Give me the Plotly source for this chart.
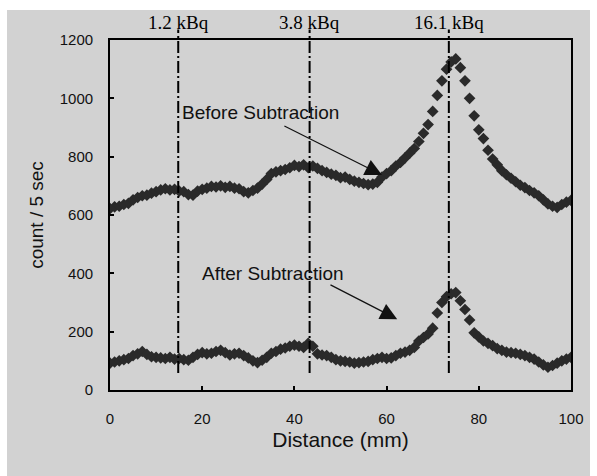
import plotly.graph_objects as go

distance_mm = list(range(0, 101))

before_subtraction = [
    622, 628, 630, 636, 640, 652, 660, 666, 668, 675,
    680, 686, 690, 686, 688, 682, 680, 670, 668, 682,
    688, 692, 698, 696, 700, 695, 698, 692, 690, 680,
    676, 684, 692, 706, 722, 742, 748, 752, 756, 762,
    770, 766, 772, 762, 768, 760, 752, 746, 740, 736,
    728, 730, 722, 716, 712, 708, 704, 706, 712, 730,
    742, 752, 768, 780, 796, 812, 828, 852, 880, 910,
    955, 1010, 1060, 1100, 1125, 1135, 1105, 1060, 1000, 940,
    892, 862, 822, 792, 772, 752, 738, 726, 714, 702,
    694, 684, 676, 666, 652, 638, 630, 626, 636, 644,
    650,
]

after_subtraction = [
    92, 96, 100, 104, 108, 118, 124, 132, 122, 114,
    112, 110, 108, 112, 106, 108, 104, 102, 112, 122,
    128, 124, 126, 132, 136, 128, 120, 124, 126, 118,
    110, 100, 94, 102, 112, 126, 132, 140, 144, 150,
    154, 150, 146, 160, 150, 124, 120, 118, 112, 104,
    100, 98, 96, 92, 94, 96, 98, 104, 108, 112,
    108, 110, 118, 126, 130, 136, 146, 168, 180, 192,
    212, 264, 300, 320, 330, 334, 306, 276, 240, 196,
    182, 168, 160, 152, 142, 136, 130, 128, 126, 122,
    118, 112, 106, 96, 86, 78, 84, 92, 100, 106,
    112,
]

source_positions = [14.8, 43.3, 73.5]
source_labels = ["1.2 kBq", "3.8 kBq", "16.1 kBq"]

x_ticks = [0, 20, 40, 60, 80, 100]
y_ticks = [0, 200, 400, 600, 800, 1000, 1200]
x_range = [0, 100]
y_range = [0, 1200]

BG = "#d2d2d2"
MARK = "#2a2a2a"

fig = go.Figure()
fig.add_trace(go.Scatter(
    x=distance_mm, y=before_subtraction, mode="markers",
    marker=dict(symbol="diamond", size=9, color=MARK),
    name="Before Subtraction", showlegend=False,
))
fig.add_trace(go.Scatter(
    x=distance_mm, y=after_subtraction, mode="markers",
    marker=dict(symbol="diamond", size=9, color=MARK),
    name="After Subtraction", showlegend=False,
))

# gray scanned-page background
fig.add_shape(type="rect", xref="paper", yref="paper",
              x0=-0.2234, x1=1.0412, y0=-0.2457, y1=1.0857,
              fillcolor=BG, line=dict(width=0), layer="below")

line_bottom = 58 / y_range[1]
for xp, lab in zip(source_positions, source_labels):
    fig.add_shape(type="line", xref="x", yref="paper",
                  x0=xp, x1=xp, y0=line_bottom, y1=1.03,
                  line=dict(color="black", width=2, dash="12px,3px,2px,3px"))
    fig.add_annotation(x=xp, y=1.051, xref="x", yref="paper",
                       text=lab, showarrow=False, xanchor="center", yanchor="middle",
                       font=dict(family="Liberation Serif", size=19, color="black"))

# text labels
fig.add_annotation(x=15.2, y=953, xref="x", yref="y", text="Before Subtraction",
                   showarrow=False, xanchor="left", yanchor="middle",
                   font=dict(family="Liberation Sans", size=19, color="#111"))
fig.add_annotation(x=19.5, y=401, xref="x", yref="y", text="After Subtraction",
                   showarrow=False, xanchor="left", yanchor="middle",
                   font=dict(family="Liberation Sans", size=19, color="#111"))

# arrows
fig.add_annotation(x=59.0, y=737, ax=37.5, ay=908, xref="x", yref="y",
                   axref="x", ayref="y", text="", showarrow=True,
                   arrowhead=2, arrowsize=2.8, arrowwidth=1.2, arrowcolor="#111")
fig.add_annotation(x=62.3, y=243, ax=47.5, ay=363, xref="x", yref="y",
                   axref="x", ayref="y", text="", showarrow=True,
                   arrowhead=2, arrowsize=2.8, arrowwidth=1.2, arrowcolor="#111")

fig.update_layout(
    width=597, height=476,
    margin=dict(l=110, r=26, t=40, b=86),
    paper_bgcolor="white", plot_bgcolor=BG,
    font=dict(family="Liberation Sans", color="#111"),
    showlegend=False,
)
fig.update_xaxes(
    range=x_range, tickvals=x_ticks, ticks="inside", ticklen=4, tickwidth=1.5,
    tickcolor="black", showline=True, linecolor="black", linewidth=1.8, mirror=True,
    showgrid=False, zeroline=False, tickfont=dict(size=15),
    ticklabelstandoff=14,
    title=dict(text="Distance (mm)", font=dict(size=21), standoff=6),
)
fig.update_yaxes(
    range=y_range, tickvals=y_ticks, ticks="inside", ticklen=4, tickwidth=1.5,
    tickcolor="black", showline=True, linecolor="black", linewidth=1.8, mirror=True,
    showgrid=False, zeroline=False, tickfont=dict(size=15),
    ticklabelstandoff=12,
    title=dict(text="count / 5 sec", font=dict(size=19), standoff=11),
)

fig.write_html("out.html")
